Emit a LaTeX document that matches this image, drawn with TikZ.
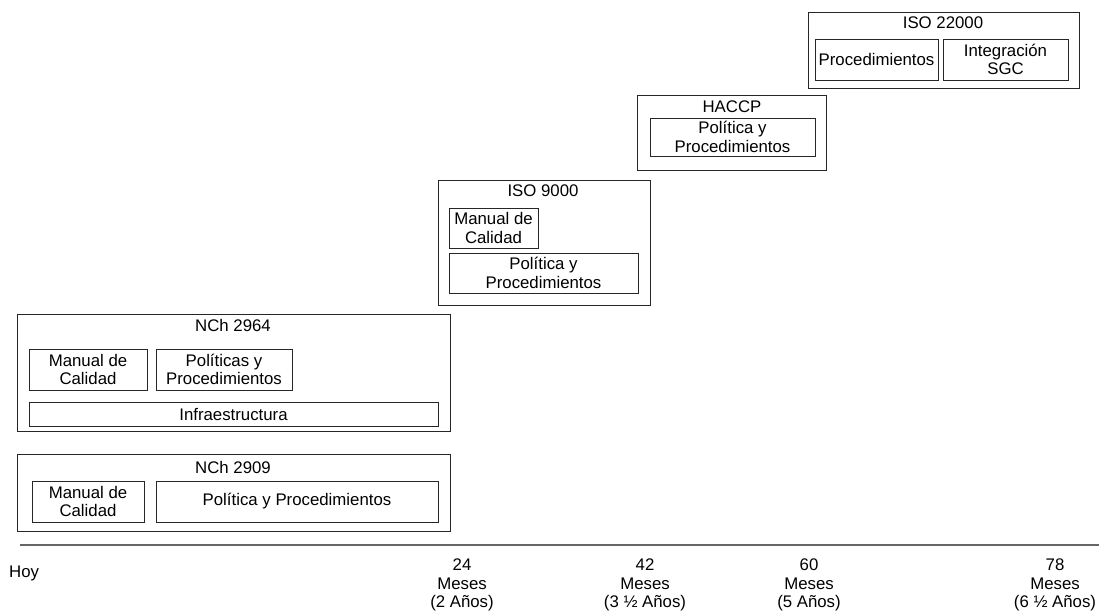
\documentclass[tikz,border=0pt]{standalone}
\usepackage{fontspec}
\setmainfont{Liberation Sans}
\begin{document}
\begin{tikzpicture}[x=1pt,y=-1pt,
  every node/.style={font=\fontsize{16.8}{18.5}\selectfont, inner sep=0pt, text=black},
  wh/.style 2 args={minimum width=#1pt, minimum height=#2pt},
  frame/.style={draw=black!85, line width=1pt, rectangle},
  item/.style={draw=black!85, line width=1pt, rectangle, align=center},
  tick/.style={align=center},
  axis/.style={draw=black!60, line width=1.6pt}]
\useasboundingbox (0,0) rectangle (1099,611);

% ISO 22000
\node[frame, wh={271}{76}] (iso22) at (943.5,50) {};
\node (iso22t) at (943,23) {ISO 22000};
\node[item, wh={123}{41}] (iso22a) at (876.5,59.5) {Procedimientos};
\node[item, wh={125}{41}] (iso22b) at (1005.5,59.5) {Integración\\SGC};

% HACCP
\node[frame, wh={189}{75}] (haccp) at (731.5,132.5) {};
\node (haccpt) at (732,107) {HACCP};
\node[item, wh={165}{38}] (haccpa) at (732.5,137) {Política y\\Procedimientos};

% ISO 9000
\node[frame, wh={212}{125}] (iso9) at (544,242.5) {};
\node (iso9t) at (543,191) {ISO 9000};
\node[item, wh={89}{40}] (iso9a) at (493.5,228) {Manual de\\Calidad};
\node[item, wh={189}{40}] (iso9b) at (543.5,273) {Política y\\Procedimientos};

% NCh 2964
\node[frame, wh={433}{117}] (n64) at (233.5,372.5) {};
\node (n64t) at (233,325) {NCh 2964};
\node[item, wh={118}{41}] (n64a) at (88,369.5) {Manual de\\Calidad};
\node[item, wh={136}{41}] (n64b) at (224,369.5) {Políticas y\\Procedimientos};
\node[item, wh={409}{24}] (n64c) at (233.5,414) {Infraestructura};

% NCh 2909
\node[frame, wh={433}{77}] (n09) at (233.5,492.5) {};
\node (n09t) at (233,467) {NCh 2909};
\node[item, wh={112}{41}] (n09a) at (88,501.5) {Manual de\\Calidad};
\node[item, wh={282}{41}] (n09b) at (297,501.5) {Política y Procedimientos};

% time axis
\coordinate (t0) at (20,545);
\coordinate (t1) at (1099,545);
\draw[axis] (t0) -- (t1);
\node[anchor=west] (hoy) at (9,573) {Hoy};
\node[tick] (m24) at (462,585) {24\\Meses\\(2 Años)};
\node[tick] (m42) at (645,585) {42\\Meses\\(3 ½ Años)};
\node[tick] (m60) at (809,585) {60\\Meses\\(5 Años)};
\node[tick] (m78) at (1055,585) {78\\Meses\\(6 ½ Años)};
\end{tikzpicture}
\end{document}
